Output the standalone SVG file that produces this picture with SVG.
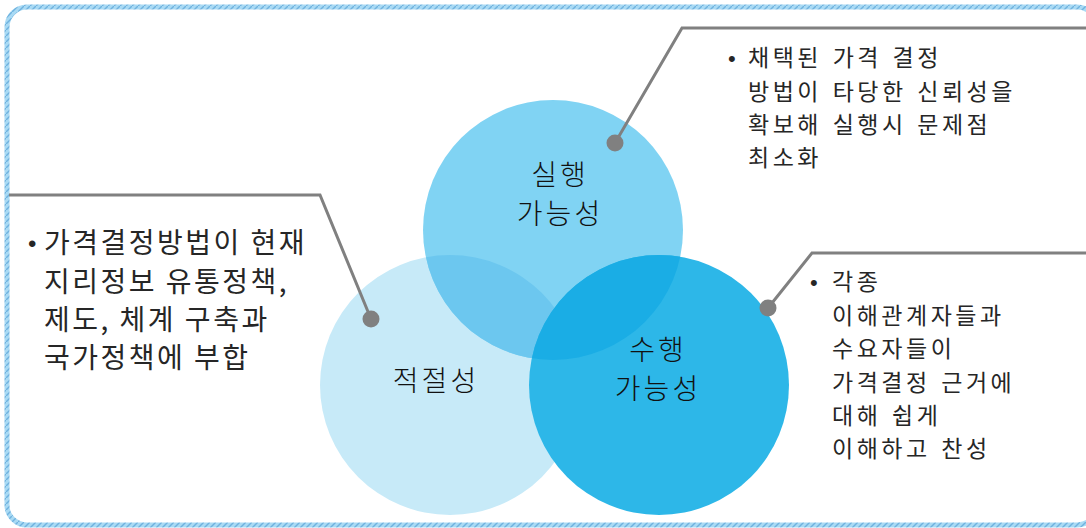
<svg xmlns="http://www.w3.org/2000/svg" width="1086" height="528" viewBox="0 0 1086 528">
<style>
.frame{fill:#ffffff;stroke:url(#hatch);stroke-width:5}
.conn{fill:none;stroke:#808080;stroke-width:3;stroke-linejoin:miter}
.dot{fill:#808080}
.lbl{font-family:"Noto Sans CJK KR","Noto Sans",sans-serif;font-weight:300;font-size:28px;fill:#111111;text-anchor:middle;letter-spacing:3px}
.note{font-family:"Noto Sans CJK KR","Noto Sans",sans-serif;font-size:23px;fill:#262626;letter-spacing:3.5px;word-spacing:2px}
.noteL{font-family:"Noto Sans CJK KR","Noto Sans",sans-serif;font-size:28px;fill:#262626;letter-spacing:2.5px;word-spacing:0px}
.bul{font-family:"Liberation Sans",sans-serif;fill:#262626}
</style>
<defs>
<pattern id="hatch" patternUnits="userSpaceOnUse" width="6" height="6">
<rect width="6" height="6" fill="#a9daf4"/>
<path d="M-1,7 L7,-1" stroke="#6fb2df" stroke-width="1.4"/>
</pattern>
<clipPath id="clipLeft"><circle cx="450" cy="385" r="130"/></clipPath>
<clipPath id="clipTop"><circle cx="553" cy="230" r="130"/></clipPath>
</defs>
<rect class="frame" x="7" y="7" width="1090" height="518" rx="20"/>
<g id="node-appropriateness">
<circle cx="450" cy="385" r="130" fill="#c7eaf8"/>
<text class="lbl" x="436" y="391">적절성</text>
</g>
<g id="node-executability">
<circle cx="553" cy="230" r="130" fill="#80d3f3"/>
<circle cx="553" cy="230" r="130" fill="#6cc7ef" clip-path="url(#clipLeft)"/>
<text class="lbl" x="560" y="185">실행</text>
<text class="lbl" x="560" y="224">가능성</text>
</g>
<g id="node-performability">
<circle cx="659" cy="385" r="130" fill="#2db7e8"/>
<circle cx="659" cy="385" r="130" fill="#1aade5" clip-path="url(#clipTop)"/>
<text class="lbl" x="658" y="360">수행</text>
<text class="lbl" x="658" y="399">가능성</text>
</g>
<g id="connectors">
<polyline class="conn" points="615,143 682,28 1086,28"/>
<circle class="dot" cx="615" cy="143" r="8.5"/>
<polyline class="conn" points="371,319 320,195 9,195"/>
<circle class="dot" cx="371" cy="319" r="8.5"/>
<polyline class="conn" points="768,308 812,253 1086,253"/>
<circle class="dot" cx="768" cy="308" r="8.5"/>
</g>
<g id="note-top">
<text class="bul" x="728" y="66" font-size="22">•</text>
<text class="note" x="748" y="66">채택된 가격 결정</text>
<text class="note" x="748" y="100">방법이 타당한 신뢰성을</text>
<text class="note" x="748" y="133">확보해 실행시 문제점</text>
<text class="note" x="748" y="166">최소화</text>
</g>
<g id="note-left">
<text class="bul" x="28" y="252" font-size="24">•</text>
<text class="noteL" x="44" y="253">가격결정방법이 현재</text>
<text class="noteL" x="44" y="292">지리정보 유통정책,</text>
<text class="noteL" x="44" y="330">제도, 체계 구축과</text>
<text class="noteL" x="44" y="368">국가정책에 부합</text>
</g>
<g id="note-right">
<text class="bul" x="810" y="290" font-size="22">•</text>
<text class="note" x="832" y="290">각종</text>
<text class="note" x="832" y="324">이해관계자들과</text>
<text class="note" x="832" y="357">수요자들이</text>
<text class="note" x="832" y="391">가격결정 근거에</text>
<text class="note" x="832" y="424">대해 쉽게</text>
<text class="note" x="832" y="457">이해하고 찬성</text>
</g>
</svg>
